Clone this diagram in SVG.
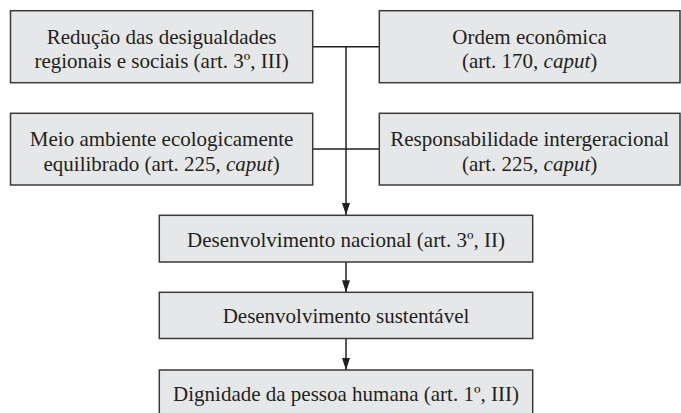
<svg xmlns="http://www.w3.org/2000/svg" width="681" height="413" viewBox="0 0 681 413">
<style>
.box{fill:#e6e7e8;stroke:#3a3a3a;stroke-width:1.5}
.t{font-family:"Liberation Serif","DejaVu Serif",serif;font-size:21px;fill:#231f20;text-anchor:middle}
.i{font-style:italic}
.c{fill:none;stroke:#231f20;stroke-width:1.5}
</style>
<defs>
<marker id="a" viewBox="0 0 12 8" refX="12" refY="4" markerWidth="12" markerHeight="8" markerUnits="userSpaceOnUse" orient="auto">
<path d="M0,0 L12,4 L0,8 Z" fill="#231f20"/>
</marker>
</defs>
<g id="connectors">
<line class="c" x1="312.7" y1="46.7" x2="379.3" y2="46.7"/>
<line class="c" x1="312.7" y1="149" x2="379.3" y2="149"/>
<line class="c" x1="346" y1="46.7" x2="346" y2="215" marker-end="url(#a)"/>
<line class="c" x1="346" y1="262" x2="346" y2="292.3" marker-end="url(#a)"/>
<line class="c" x1="346" y1="338.5" x2="346" y2="370" marker-end="url(#a)"/>
</g>
<g id="n1">
<rect class="box" x="10.5" y="10.7" width="302.2" height="72"/>
<text class="t" x="161.6" y="43.5">Redução das desigualdades</text>
<text class="t" x="161.6" y="68">regionais e sociais (art. 3º, III)</text>
</g>
<g id="n2">
<rect class="box" x="379.3" y="10.7" width="300.7" height="72"/>
<text class="t" x="529.6" y="43.5">Ordem econômica</text>
<text class="t" x="529.6" y="68">(art. 170, <tspan class="i">caput</tspan>)</text>
</g>
<g id="n3">
<rect class="box" x="10.5" y="113.3" width="302.2" height="71.7"/>
<text class="t" x="161.6" y="146">Meio ambiente ecologicamente</text>
<text class="t" x="161.6" y="170.5">equilibrado (art. 225, <tspan class="i">caput</tspan>)</text>
</g>
<g id="n4">
<rect class="box" x="379.3" y="113.3" width="300.7" height="71.7"/>
<text class="t" x="529.6" y="146">Responsabilidade intergeracional</text>
<text class="t" x="529.6" y="170.5">(art. 225, <tspan class="i">caput</tspan>)</text>
</g>
<g id="n5">
<rect class="box" x="159.3" y="215.3" width="373.4" height="46.7"/>
<text class="t" x="346" y="246.5">Desenvolvimento nacional (art. 3º, II)</text>
</g>
<g id="n6">
<rect class="box" x="159.3" y="292.3" width="373.4" height="46.2"/>
<text class="t" x="346" y="323">Desenvolvimento sustentável</text>
</g>
<g id="n7">
<rect class="box" x="159.3" y="370" width="373.4" height="47"/>
<text class="t" x="346" y="401">Dignidade da pessoa humana (art. 1º, III)</text>
</g>
</svg>
